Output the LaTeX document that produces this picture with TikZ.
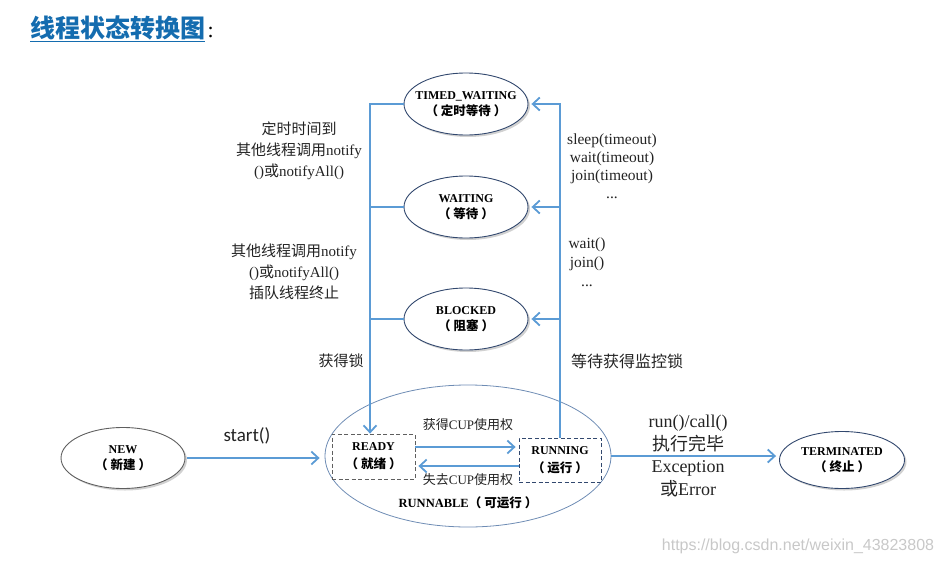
\documentclass[tikz,border=0pt]{standalone}
\usepackage{fontspec}
\setmainfont{Liberation Serif}
\newfontfamily\cjk{Noto Sans CJK SC}
\newfontfamily\carlitofont{Carlito}
\newfontfamily\arialfont{Liberation Sans}
\usetikzlibrary{shapes.geometric,arrows.meta,shadows}
\definecolor{arrowblue}{RGB}{91,155,213}
\definecolor{titleblue}{RGB}{20,108,175}
\definecolor{stateline}{RGB}{50,72,110}
\definecolor{newline}{RGB}{95,95,95}
\definecolor{runline}{RGB}{110,140,180}
\definecolor{textgray}{RGB}{35,35,35}
\definecolor{wmgray}{RGB}{200,200,200}
\newcommand\zh[1]{{\cjk #1}}
\newcommand\zhb[1]{{\cjk\bfseries\fontsize{12.5}{16}\selectfont （\hspace{3pt}#1\hspace{3pt}）}}
\tikzset{
  statebox/.style={ellipse, draw=stateline, line width=0.9pt, fill=white,
    minimum width=124pt, minimum height=62pt, inner xsep=-30pt, inner ysep=0pt,
    align=center, font=\fontsize{12}{16.5}\selectfont,
    drop shadow={shadow xshift=2pt, shadow yshift=-2pt, opacity=0.18, fill=black}},
  dashbox/.style={rectangle, dash pattern=on 4pt off 2.5pt, line width=0.8pt, fill=white,
    align=center, inner sep=0pt, font=\fontsize{12}{18}\selectfont},
  conn/.style={draw=arrowblue, line width=1.8pt},
  arr/.style={conn, -{Straight Barb[length=7pt,width=13pt]}},
  lbl/.style={inner sep=0pt, align=center, text=textgray, font=\fontsize{15}{21}\selectfont},
}
\begin{document}
\begin{tikzpicture}[x=1pt,y=-1pt]
\useasboundingbox (0,0) rectangle (943,565);

% title
\node[anchor=base west, inner sep=0pt, text=titleblue, font=\cjk\bfseries\fontsize{25}{28}\selectfont] (title) at (30,37) {线程状态转换图};
\draw[titleblue, line width=1.6pt] ([yshift=-4.5pt]title.base west) -- ([yshift=-4.5pt]title.base east);
\node[anchor=base west, inner sep=0pt, font=\fontsize{22}{24}\selectfont] (colon) at ([xshift=2pt]title.base east) {:};

% runnable group
\node[ellipse, draw=runline, line width=0.8pt, minimum width=286pt, minimum height=142pt, inner sep=0pt] (runnable) at (468,456) {};
\node[dashbox, draw=newline, minimum width=83pt, minimum height=45pt] (ready) at (373.5,456.5) {\textbf{READY}\\\zhb{就绪}};
\node[dashbox, draw=stateline, minimum width=82pt, minimum height=44pt] (running) at (560,460) {\textbf{RUNNING}\\\zhb{运行}};
\node[inner sep=0pt, font=\fontsize{12.5}{15}\selectfont] (rlabel) at (468,503) {\textbf{RUNNABLE}\zhb{可运行}};

% states
\node[statebox] (tw) at (466,104) {\textbf{TIMED\_WAITING}\\\zhb{定时等待}};
\node[statebox] (wt) at (466,207) {\textbf{WAITING}\\\zhb{等待}};
\node[statebox] (bl) at (466,319) {\textbf{BLOCKED}\\\zhb{阻塞}};
\node[statebox, draw=newline, minimum height=61pt, font=\fontsize{12}{15.5}\selectfont] (new) at (123,458) {\textbf{NEW}\\\zhb{新建}};
\node[statebox, minimum width=125pt, minimum height=57pt, font=\fontsize{12}{15.5}\selectfont] (term) at (842,460) {\textbf{TERMINATED}\\\zhb{终止}};

% left bus
\coordinate (ltop) at (370,104);
\draw[arr] (tw.west) -- (ltop) -- (ltop |- ready.north);
\draw[conn] (wt.west) -- (wt.west -| ltop);
\draw[conn] (bl.west) -- (bl.west -| ltop);

% right bus
\coordinate (rtop) at (560,104);
\draw[arr] (running.north) -- (rtop) -- ([xshift=3pt]tw.east);
\draw[arr] (wt.east -| rtop) -- ([xshift=3pt]wt.east);
\draw[arr] (bl.east -| rtop) -- ([xshift=3pt]bl.east);

% ready <-> running
\draw[arr, shorten >=3pt] ([yshift=9.5pt]ready.east) -- ([yshift=9.5pt]ready.east -| running.west);
\draw[arr, shorten >=3pt] ([yshift=-6pt]running.west) -- ([yshift=-6pt]running.west -| ready.east);

% start and terminate
\draw[arr, shorten <=2pt, shorten >=5pt] (new.east) -- (new.east -| runnable.west);
\draw[arr, shorten >=3pt] (runnable.east) -- (runnable.east -| term.west);

% labels
\node[lbl] (l1) at (299,151) {\zh{定时时间到}\\\zh{其他线程调用}notify\\()\zh{或}notifyAll()};
\node[lbl] (l2) at (294,272) {\zh{其他线程调用}notify\\()\zh{或}notifyAll()\\\zh{插队线程终止}};
\node[lbl] (l3) at (341,361) {\zh{获得锁}};
\node[lbl, font=\fontsize{15.5}{18}\selectfont] (r1) at (612,166) {sleep(timeout)\\wait(timeout)\\join(timeout)\\...};
\node[lbl, font=\fontsize{15.5}{19}\selectfont] (r2) at (587,262) {wait()\\join()\\...};
\node[lbl, font=\fontsize{16}{20}\selectfont] (r3) at (627,361) {\zh{等待获得监控锁}};
\node[lbl, font=\carlitofont\fontsize{19}{22}\selectfont] (st) at (247,436) {start()};
\node[lbl, font=\fontsize{18}{22.5}\selectfont] (rc) at (688,456) {run()/call()\\\zh{执行完毕}\\Exception\\\zh{或}Error};
\node[lbl, font=\fontsize{13}{15}\selectfont] (c1) at (468,425) {\zh{获得}CUP\zh{使用权}};
\node[lbl, font=\fontsize{13}{15}\selectfont] (c2) at (468,480) {\zh{失去}CUP\zh{使用权}};
\node[inner sep=0pt, text=wmgray, font=\arialfont\fontsize{16}{18}\selectfont] (wm) at (798,546) {https://blog.csdn.net/weixin\_43823808};
\end{tikzpicture}
\end{document}
